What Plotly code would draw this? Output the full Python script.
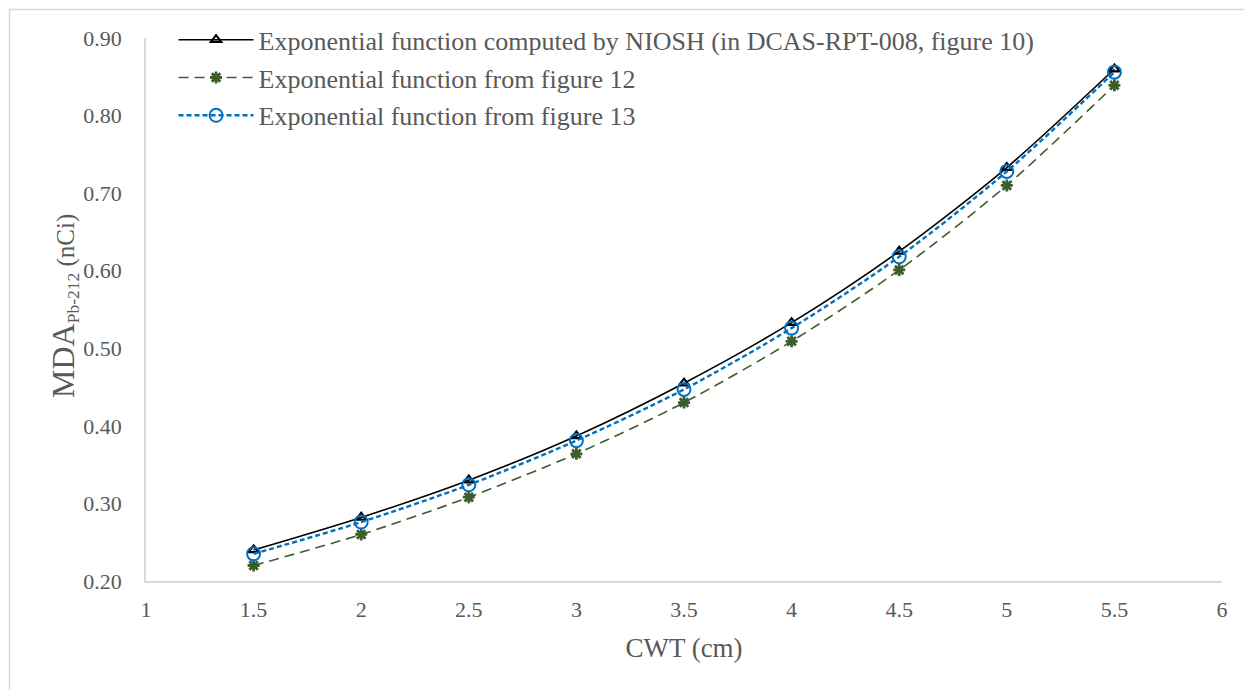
import plotly.graph_objects as go

cwt = [1.5, 2, 2.5, 3, 3.5, 4, 4.5, 5, 5.5]
niosh = [0.240, 0.282, 0.330, 0.387, 0.455, 0.533, 0.625, 0.733, 0.860]
fig12 = [0.220, 0.260, 0.308, 0.364, 0.430, 0.509, 0.601, 0.710, 0.839]
fig13 = [0.235, 0.276, 0.324, 0.381, 0.447, 0.526, 0.618, 0.728, 0.856]
names = ["Exponential function computed by NIOSH (in DCAS-RPT-008, figure 10)",
         "Exponential function from figure 12",
         "Exponential function from figure 13"]
y_title = "<span style='font-size:32px'>MDA</span><sub>Pb-212</sub> (nCi)"

W, H = 1252, 690
L, T, PW, PH = 138, 30, 1076, 543
R, B = W - L - PW, H - T - PH

fig = go.Figure()
fig.add_trace(go.Scatter(
    x=cwt, y=niosh, name=names[0], mode="lines+markers", legendgroup="a",
    line=dict(color="black", width=1.6, shape="spline", smoothing=0.8),
    marker=dict(symbol="triangle-up-open", size=9, color="black", line=dict(width=2.2, color="black"))))
fig.add_trace(go.Scatter(
    x=cwt, y=fig12, name=names[1], mode="lines+markers", legendgroup="b",
    line=dict(color="#3b5e2b", width=1.6, dash="10px,6px", shape="spline", smoothing=0.8),
    marker=dict(symbol="asterisk-open", size=10, color="#3b5e2b", line=dict(width=2.8, color="#3b5e2b"))))
fig.add_trace(go.Scatter(
    x=cwt, y=fig13, name=names[2], mode="lines+markers", legendgroup="c",
    line=dict(color="#0070c0", width=2.4, dash="5px,3px", shape="spline", smoothing=0.8),
    marker=dict(symbol="circle-open", size=13, color="#0070c0", line=dict(width=2, color="#0070c0"))))

font = "Liberation Serif, Times New Roman, serif"
fig.update_layout(
    width=W, height=H,
    margin=dict(l=L, r=R, t=T, b=B, autoexpand=False),
    paper_bgcolor="white", plot_bgcolor="white",
    font=dict(family=font, color="#595959", size=22),
    showlegend=True,
    legend=dict(x=0.0256, y=1.04, xanchor="left", yanchor="top", bgcolor="rgba(0,0,0,0)",
                font=dict(family=font, size=26, color="#595959"), tracegroupgap=1,
                itemwidth=75),
    xaxis=dict(range=[1, 6], dtick=0.5, tick0=1, showgrid=False, zeroline=False,
               showline=True, linecolor="#d9d9d9", linewidth=1.5, ticks="",
               tickfont=dict(family=font, size=22, color="#595959"), ticklabelstandoff=8,
               title=dict(text="CWT (cm)", font=dict(family=font, size=27, color="#595959"), standoff=17)),
    yaxis=dict(range=[0.2, 0.9], dtick=0.1, tickformat=".2f", showgrid=False, zeroline=False,
               showline=True, linecolor="#d9d9d9", linewidth=1.5, ticks="",
               tickfont=dict(family=font, size=22, color="#595959"), ticklabelstandoff=18),
)

def py(y):
    return (T + PH - y) / PH

def px(x):
    return (x - L) / PW

fig.add_annotation(text=y_title, xref="paper", yref="paper", x=px(56), y=py(298),
                   xanchor="center", yanchor="middle", textangle=-90, showarrow=False,
                   font=dict(family=font, size=25, color="#595959"))

fig.add_shape(type="rect", xref="paper", yref="paper",
              x0=px(1.5), x1=px(W + 20), y0=py(H + 20), y1=py(1.5),
              line=dict(color="#d9d9d9", width=1.5), fillcolor="rgba(0,0,0,0)", layer="above")

fig.write_html("out.html")
